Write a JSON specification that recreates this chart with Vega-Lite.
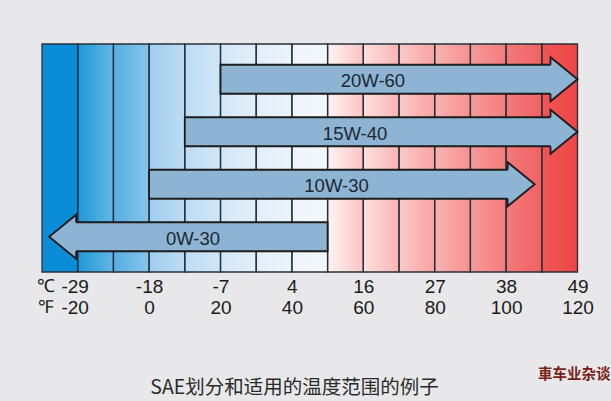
{
  "$schema": "https://vega.github.io/schema/vega-lite/v6.json",
  "width": 535.5,
  "height": 228,
  "autosize": {"type": "none"},
  "padding": {"left": 42, "top": 44, "right": 33.5, "bottom": 129},
  "background": "#e8e8ea",
  "config": {"view": {"stroke": null}, "font": "Liberation Sans"},
  "title": {
    "text": "車车业杂谈",
    "orient": "top",
    "anchor": "start",
    "frame": "group",
    "offset": 0,
    "dx": 496,
    "dy": 350,
    "baseline": "alphabetic",
    "font": "Noto Sans CJK SC",
    "fontSize": 14.5,
    "fontWeight": "bold",
    "color": "#7a1f1a"
  },
  "datasets": {
    "columns": [
      {"lo": -30, "hi": -20}, {"lo": -20, "hi": -10}, {"lo": -10, "hi": 0},
      {"lo": 0, "hi": 10}, {"lo": 10, "hi": 20}, {"lo": 20, "hi": 30},
      {"lo": 30, "hi": 40}, {"lo": 40, "hi": 50}, {"lo": 50, "hi": 60},
      {"lo": 60, "hi": 70}, {"lo": 70, "hi": 80}, {"lo": 80, "hi": 90},
      {"lo": 90, "hi": 100}, {"lo": 100, "hi": 110}, {"lo": 110, "hi": 120}
    ],
    "oils": [
      {"grade": "20W-60", "low": 20, "high": 120, "dir": "right", "label_f": 62.7},
      {"grade": "15W-40", "low": 10, "high": 120, "dir": "right", "label_f": 57.7},
      {"grade": "10W-30", "low": 0, "high": 108, "dir": "right", "label_f": 52.5},
      {"grade": "0W-30", "low": -28, "high": 50, "dir": "left", "label_f": 12.3}
    ]
  },
  "layer": [
    {
      "data": {"name": "columns"},
      "mark": {"type": "rect", "strokeWidth": 0},
      "encoding": {
        "x": {
          "field": "lo",
          "type": "quantitative",
          "scale": {"domain": [-30, 120], "nice": false, "zero": false},
          "axis": {
            "values": [-20, 0, 20, 40, 60, 80, 100, 120],
            "labelExpr": "[toString(round((datum.value - 32) * 5 / 9)), toString(datum.value)]",
            "labelOffset": {"condition": {"test": "datum.value == -20", "value": -3}, "value": 0},
            "grid": false,
            "ticks": false,
            "domain": false,
            "labelFont": "Liberation Sans",
            "labelFontSize": 19,
            "labelLineHeight": 21,
            "labelColor": "#1a1a1a",
            "labelPadding": 5,
            "labelOverlap": false,
            "labelFlush": false,
            "labelBound": false,
            "title": "SAE划分和适用的温度范围的例子",
            "titleX": 252,
            "titleY": 121,
            "titleAlign": "center",
            "titleBaseline": "alphabetic",
            "titleFont": "Noto Sans CJK SC",
            "titleFontSize": 19.5,
            "titleFontWeight": "normal",
            "titleColor": "#2a2a2a"
          }
        },
        "x2": {"field": "hi"},
        "color": {
          "field": "lo",
          "type": "quantitative",
          "scale": {
            "domain": [-30, -20, -10, 0, 10, 20, 30, 40, 50, 60, 70, 80, 90, 100, 110],
            "range": ["#0a8dd6", "#1f98d9", "#55ade2", "#a0cdef", "#bddcf4", "#d4e7f8", "#e3eef9", "#eff5fb", "#fff4f4", "#fde0e0", "#fbcaca", "#f8b3b3", "#f59a9a", "#f27a7a", "#ef5656"],
            "interpolate": "rgb"
          },
          "legend": null
        }
      }
    },
    {
      "data": {"name": "columns"},
      "transform": [{"filter": "datum.lo >= -20 && datum.hi <= 50"}],
      "mark": {
        "type": "rect",
        "strokeWidth": 0,
        "fill": {
          "gradient": "linear", "x1": 0, "y1": 0, "x2": 1, "y2": 0,
          "stops": [
            {"offset": 0, "color": "rgba(255,255,255,0)"},
            {"offset": 1, "color": "rgba(255,255,255,0.3)"}
          ]
        }
      },
      "encoding": {"x": {"field": "lo", "type": "quantitative"}, "x2": {"field": "hi"}}
    },
    {
      "data": {"name": "columns"},
      "transform": [{"filter": "datum.lo >= 50"}],
      "mark": {
        "type": "rect",
        "strokeWidth": 0,
        "fill": {
          "gradient": "linear", "x1": 0, "y1": 0, "x2": 1, "y2": 0,
          "stops": [
            {"offset": 0, "color": "rgba(255,0,0,0)"},
            {"offset": 1, "color": "rgba(235,0,0,0.2)"}
          ]
        }
      },
      "encoding": {"x": {"field": "lo", "type": "quantitative"}, "x2": {"field": "hi"}}
    },
    {
      "data": {"name": "columns"},
      "mark": {"type": "rect", "fill": "transparent", "stroke": "#27303a", "strokeWidth": 1.3},
      "encoding": {"x": {"field": "lo", "type": "quantitative"}, "x2": {"field": "hi"}}
    },
    {
      "data": {"name": "oils"},
      "transform": [{"filter": "datum.dir == 'right'"}],
      "mark": {"type": "bar", "color": "#8db4d2", "stroke": "#1c1c1c", "strokeWidth": 1.8, "x2Offset": -24, "cornerRadius": 0},
      "encoding": {
        "x": {"field": "low", "type": "quantitative"},
        "x2": {"field": "high"},
        "y": {
          "field": "grade",
          "type": "nominal",
          "sort": ["20W-60", "15W-40", "10W-30", "0W-30"],
          "scale": {"domain": ["20W-60", "15W-40", "10W-30", "0W-30"], "paddingInner": 0.448, "paddingOuter": 0.395},
          "axis": {
            "labels": false,
            "ticks": false,
            "domain": false,
            "grid": false,
            "title": ["℃", "℉"],
            "titleAngle": 0,
            "titleX": 3,
            "titleY": 247,
            "titleAlign": "center",
            "titleBaseline": "alphabetic",
            "titleFont": "Liberation Sans",
            "titleFontSize": 18,
            "titleFontWeight": "normal",
            "titleLineHeight": 21,
            "titleColor": "#1a1a1a"
          }
        }
      }
    },
    {
      "data": {"name": "oils"},
      "transform": [{"filter": "datum.dir == 'left'"}],
      "mark": {"type": "bar", "color": "#8db4d2", "stroke": "#1c1c1c", "strokeWidth": 1.8, "xOffset": 24, "cornerRadius": 0},
      "encoding": {
        "x": {"field": "low", "type": "quantitative"},
        "x2": {"field": "high"},
        "y": {"field": "grade", "type": "nominal"}
      }
    },
    {
      "data": {"name": "oils"},
      "transform": [{"filter": "datum.dir == 'right'"}],
      "mark": {
        "type": "point",
        "shape": "M -1 -0.537 L -1 -0.815 L 0 0 L -1 0.815 L -1 0.537",
        "size": 2916,
        "filled": true,
        "fill": "#8db4d2",
        "stroke": "#1c1c1c",
        "strokeWidth": 1.8,
        "opacity": 1,
        "strokeJoin": "miter"
      },
      "encoding": {
        "x": {"field": "high", "type": "quantitative"},
        "y": {"field": "grade", "type": "nominal"}
      }
    },
    {
      "data": {"name": "oils"},
      "transform": [{"filter": "datum.dir == 'left'"}],
      "mark": {
        "type": "point",
        "shape": "M 1 -0.537 L 1 -0.815 L 0 0 L 1 0.815 L 1 0.537",
        "size": 2916,
        "filled": true,
        "fill": "#8db4d2",
        "stroke": "#1c1c1c",
        "strokeWidth": 1.8,
        "opacity": 1,
        "strokeJoin": "miter"
      },
      "encoding": {
        "x": {"field": "low", "type": "quantitative"},
        "y": {"field": "grade", "type": "nominal"}
      }
    },
    {
      "data": {"name": "oils"},
      "mark": {"type": "text", "font": "Liberation Sans", "fontSize": 18.5, "color": "#1d2733", "align": "center", "baseline": "alphabetic", "dy": 8},
      "encoding": {
        "x": {"field": "label_f", "type": "quantitative"},
        "y": {"field": "grade", "type": "nominal"},
        "text": {"field": "grade"}
      }
    }
  ]
}
